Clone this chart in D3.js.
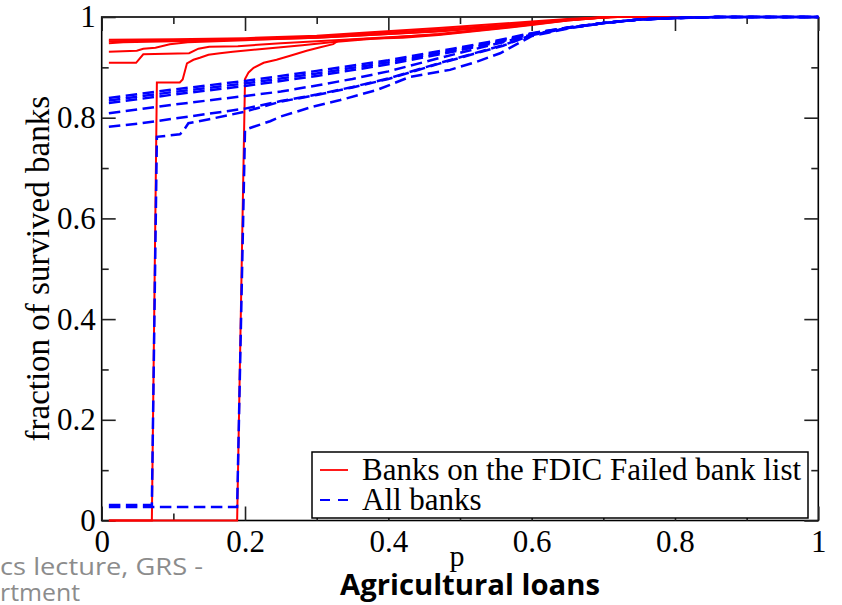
<!DOCTYPE html>
<html><head><meta charset="utf-8">
<script src="https://cdn.jsdelivr.net/npm/d3@7"></script>
<style>body{margin:0;background:#fff} svg{display:block}</style>
</head><body><svg id="c" width="842" height="605"></svg>
<script>
// ---------- data (p, fraction of survived banks) ----------
const majorTicks = [0, 0.2, 0.4, 0.6, 0.8, 1];
const minorTicks = [0.1, 0.3, 0.5, 0.7, 0.9];
const tickLabels = ["0", "0.2", "0.4", "0.6", "0.8", "1"];
const legendLabels = ["Banks on the FDIC Failed bank list", "All banks"];

const failed1 = [[0.01,0.955],[0.1,0.956],[0.2,0.958],[0.3,0.963],[0.37,0.969],[0.47,0.978],[0.55,0.986],[0.6,0.991],[0.65,0.996],[0.71,1],[1,1]];
const failed2 = [[0.01,0.952],[0.1,0.954],[0.2,0.956],[0.3,0.961],[0.4,0.969],[0.47,0.975],[0.55,0.983],[0.6,0.989],[0.65,0.995],[0.72,1],[1,1]];
const failed3 = [[0.01,0.948],[0.03,0.950],[0.1,0.952],[0.2,0.955],[0.3,0.959],[0.4,0.966],[0.47,0.972],[0.55,0.981],[0.6,0.987],[0.65,0.994],[0.71,1],[1,1]];
const failed4 = [[0.01,0.931],[0.049,0.933],[0.058,0.937],[0.075,0.939],[0.095,0.946],[0.12,0.95],[0.2,0.954],[0.3,0.959],[0.4,0.966],[0.47,0.971],[0.55,0.98],[0.6,0.987],[0.65,0.994],[0.7,1],[1,1]];
const failed5 = [[0.01,0.909],[0.048,0.909],[0.058,0.926],[0.122,0.928],[0.135,0.937],[0.15,0.941],[0.19,0.942],[0.25,0.948],[0.3,0.952],[0.35,0.956],[0.4,0.96],[0.47,0.965],[0.55,0.977],[0.6,0.985],[0.65,0.993],[0.71,1],[1,1]];
const failed6 = [[0.01,0],[0.07,0],[0.077,0.87],[0.109,0.87],[0.113,0.876],[0.119,0.908],[0.128,0.915],[0.137,0.919],[0.149,0.925],[0.165,0.928],[0.183,0.931],[0.22,0.936],[0.25,0.94],[0.28,0.944],[0.32,0.95],[0.37,0.956],[0.47,0.966],[0.55,0.978],[0.6,0.986],[0.65,0.994],[0.71,1],[1,1]];
const failed7 = [[0.01,0],[0.189,0],[0.2,0.877],[0.205,0.89],[0.212,0.899],[0.226,0.909],[0.244,0.915],[0.263,0.923],[0.286,0.933],[0.305,0.94],[0.323,0.946],[0.33,0.953],[0.37,0.957],[0.42,0.959],[0.47,0.964],[0.55,0.976],[0.6,0.984],[0.65,0.993],[0.7,0.999],[0.72,1],[1,1]];

const all1 = [[0.01,0.839],[0.1,0.856],[0.2,0.873],[0.3,0.893],[0.4,0.914],[0.49,0.937],[0.55,0.953],[0.6,0.968],[0.65,0.979],[0.7,0.988],[0.75,0.995],[0.8,0.998],[0.86,1],[1,1]];
const all2 = [[0.01,0.834],[0.1,0.851],[0.2,0.868],[0.3,0.888],[0.4,0.910],[0.49,0.934],[0.55,0.951],[0.6,0.967],[0.65,0.979],[0.7,0.988],[0.75,0.995],[0.8,0.998],[0.86,1],[1,1]];
const all3 = [[0.01,0.829],[0.1,0.846],[0.2,0.863],[0.3,0.883],[0.4,0.906],[0.49,0.931],[0.55,0.949],[0.6,0.966],[0.65,0.978],[0.7,0.988],[0.75,0.995],[0.8,0.998],[0.86,1],[1,1]];
const all4 = [[0.01,0.809],[0.1,0.826],[0.2,0.843],[0.25,0.852],[0.3,0.864],[0.35,0.877],[0.4,0.892],[0.47,0.918],[0.52,0.936],[0.56,0.95],[0.6,0.965],[0.65,0.978],[0.7,0.988],[0.75,0.995],[0.8,0.998],[0.86,1],[1,1]];
const all5 = [[0.01,0.782],[0.05,0.788],[0.1,0.798],[0.15,0.808],[0.2,0.818],[0.25,0.833],[0.3,0.846],[0.35,0.861],[0.4,0.878],[0.47,0.908],[0.52,0.928],[0.56,0.944],[0.6,0.964],[0.65,0.978],[0.7,0.988],[0.75,0.995],[0.8,0.998],[0.86,1],[1,1]];
const all6 = [[0.01,0.031],[0.07,0.031],[0.077,0.762],[0.109,0.767],[0.113,0.772],[0.121,0.789],[0.15,0.797],[0.2,0.812],[0.25,0.832],[0.3,0.845],[0.35,0.86],[0.4,0.877],[0.47,0.907],[0.52,0.927],[0.56,0.943],[0.6,0.964],[0.65,0.978],[0.7,0.988],[0.75,0.995],[0.8,0.998],[0.86,1],[1,1]];
const all7 = [[0.01,0.027],[0.189,0.027],[0.2,0.776],[0.212,0.782],[0.235,0.793],[0.249,0.802],[0.295,0.822],[0.333,0.835],[0.384,0.855],[0.43,0.881],[0.486,0.895],[0.523,0.911],[0.556,0.928],[0.6,0.962],[0.65,0.977],[0.7,0.988],[0.75,0.995],[0.8,0.998],[0.86,1],[1,1]];

const failedSeries = [failed1, failed2, failed3, failed4, failed5, failed6, failed7];
const allSeries = [all1, all2, all3, all4, all5, all6, all7];

// ---------- drawing ----------
const svg = d3.select("#c");
const x = d3.scaleLinear().domain([0, 1]).range([101.7, 818.3]);
const y = d3.scaleLinear().domain([0, 1]).range([520.5, 17]);
const serif = "'Liberation Serif','DejaVu Serif',serif";
const sans = "'Open Sans','Noto Sans',sans-serif";
const RED = "#ff0000", BLUE = "#0000ff";

// frame
svg.append("rect").attr("x", x(0)).attr("y", y(1))
  .attr("width", x(1) - x(0)).attr("height", y(0) - y(1))
  .attr("fill", "none").attr("stroke", "#000").attr("stroke-width", 1.6);

// ticks
function ticks(axisFn, pos, transform, size, vals, labels, pad) {
  const a = axisFn(pos).tickValues(vals).tickSize(size).tickPadding(pad)
    .tickFormat((d, i) => labels ? labels[i] : "");
  const g = svg.append("g").attr("transform", transform).call(a)
    .attr("font-family", serif).attr("font-size", 31);
  g.select(".domain").remove();
  g.selectAll(".tick line").attr("stroke", "#222").attr("stroke-width", 1.6);
  g.selectAll("text").attr("fill", "#000");
  return g;
}
ticks(d3.axisBottom, x, `translate(0,${y(0)})`, -14, majorTicks, tickLabels, 9);
ticks(d3.axisBottom, x, `translate(0,${y(0)})`, -7, minorTicks, null, 9);
ticks(d3.axisTop, x, `translate(0,${y(1)})`, -14, majorTicks, null, 9);
ticks(d3.axisTop, x, `translate(0,${y(1)})`, -7, minorTicks, null, 9);
ticks(d3.axisLeft, y, `translate(${x(0)},0)`, -14, majorTicks, tickLabels, 6);
ticks(d3.axisLeft, y, `translate(${x(0)},0)`, -7, minorTicks, null, 6);
ticks(d3.axisRight, y, `translate(${x(1)},0)`, -14, majorTicks, null, 6);
ticks(d3.axisRight, y, `translate(${x(1)},0)`, -7, minorTicks, null, 6);

// lines
const line = d3.line().x(d => x(d[0])).y(d => y(d[1]));
svg.append("g").selectAll("path").data(failedSeries).join("path")
  .attr("d", line).attr("fill", "none").attr("stroke", RED).attr("stroke-width", 2);
svg.append("g").selectAll("path").data(allSeries).join("path")
  .attr("d", line).attr("fill", "none").attr("stroke", BLUE).attr("stroke-width", 2.5)
  .attr("stroke-dasharray", "11.5,5.5");

// axis titles
svg.append("text").attr("transform", `translate(49,${(y(0) + y(1)) / 2}) rotate(-90)`)
  .attr("text-anchor", "middle").attr("font-family", serif).attr("font-size", 33)
  .text("fraction of survived banks");
svg.append("text").attr("x", x(0.5) - 3).attr("y", 566)
  .attr("text-anchor", "middle").attr("font-family", serif).attr("font-size", 30).text("p");
svg.append("text").attr("x", 340).attr("y", 595)
  .attr("font-family", sans).attr("font-weight", "bold")
  .attr("font-size", 28).attr("textLength", 260).attr("lengthAdjust", "spacingAndGlyphs")
  .text("Agricultural loans");
// slide footer fragments
svg.append("text").attr("x", 0).attr("y", 575).attr("fill", "#8c8c8c")
  .attr("font-family", sans).attr("font-size", 24)
  .attr("textLength", 203).attr("lengthAdjust", "spacingAndGlyphs").text("cs lecture, GRS -");
svg.append("text").attr("x", 0).attr("y", 601).attr("fill", "#8c8c8c")
  .attr("font-family", sans).attr("font-size", 24)
  .attr("textLength", 80).attr("lengthAdjust", "spacingAndGlyphs").text("rtment");

// legend
const lg = svg.append("g");
lg.append("rect").attr("x", 312).attr("y", 452).attr("width", 496).attr("height", 66)
  .attr("fill", "#fff").attr("stroke", "#000").attr("stroke-width", 1.5);
const legendStyles = [{c: RED, dash: null}, {c: BLUE, dash: "10,8"}];
legendLabels.forEach((t, i) => {
  const yy = 470 + i * 30;
  lg.append("line").attr("x1", 320).attr("x2", 348).attr("y1", yy).attr("y2", yy)
    .attr("stroke", legendStyles[i].c).attr("stroke-width", 1.8)
    .attr("stroke-dasharray", legendStyles[i].dash);
  lg.append("text").attr("x", 362).attr("y", yy + 10).attr("font-family", serif)
    .attr("font-size", 31).text(t);
});
</script></body></html>
